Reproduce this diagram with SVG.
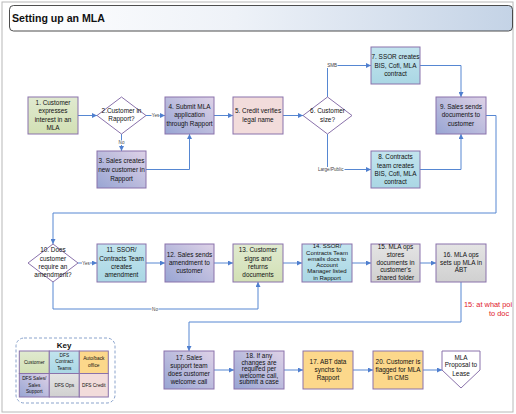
<svg xmlns="http://www.w3.org/2000/svg" width="516" height="414" viewBox="0 0 516 414">
<defs>
<linearGradient id="gTitle" x1="0" y1="0" x2="1" y2="0"><stop offset="0" stop-color="#ffffff"/><stop offset="0.45" stop-color="#eef2f8"/><stop offset="1" stop-color="#c4d3e6"/></linearGradient>
<linearGradient id="gPurple" x1="0" y1="1" x2="1" y2="0"><stop offset="0" stop-color="#98a5d3"/><stop offset="1" stop-color="#ded2e7"/></linearGradient>
<linearGradient id="gBlue" x1="0" y1="0" x2="0" y2="1"><stop offset="0" stop-color="#c2e4ee"/><stop offset="1" stop-color="#aad7e4"/></linearGradient>
<linearGradient id="gGray" x1="0" y1="0" x2="0" y2="1"><stop offset="0" stop-color="#e4e4e4"/><stop offset="1" stop-color="#d0d0d0"/></linearGradient>
<linearGradient id="gGreen" x1="0" y1="0" x2="0" y2="1"><stop offset="0" stop-color="#e0ead0"/><stop offset="1" stop-color="#d2e0b4"/></linearGradient>
<marker id="arr" viewBox="0 0 6 6" refX="6" refY="3" markerWidth="5" markerHeight="5" markerUnits="userSpaceOnUse" orient="auto"><path d="M0,0 L6,3 L0,6 z" fill="#4f7fcf"/></marker>
<clipPath id="frameClip"><rect x="2" y="2" width="511" height="410"/></clipPath>
</defs>
<style>
text{font-family:"Liberation Sans",Arial,sans-serif;text-anchor:middle;fill:#111;}
.t{font-size:6.4px;}
.t14{font-size:6px;}
.box{stroke:#8a72ab;stroke-width:1;}
.purple{fill:url(#gPurple);}
.blue{fill:url(#gBlue);}
.gray{fill:url(#gGray);}
.green{fill:url(#gGreen);}
.pink{fill:#f2dcdb;}
.yellow{fill:#fcd88b;}
.white{fill:#ffffff;}
.conn{fill:none;stroke:#5687d2;stroke-width:1;}
.lbl{font-size:4.6px;fill:#444;}
.lblbg{fill:#ffffff;}
.key{font-size:4.8px;}
.red{font-size:7.4px;fill:#e0202a;text-anchor:start;}
</style>
<rect x="2" y="2" width="511" height="410" fill="#ffffff" stroke="#b8b8b8" stroke-width="1"/>
<g id="title">
<rect x="9.5" y="5.5" width="503" height="25.5" rx="4" fill="url(#gTitle)" stroke="#3a3a3a" stroke-width="0.9"/>
<text x="12" y="22" style="font-size:10.6px;font-weight:bold;text-anchor:start;">Setting up an MLA</text>
</g>
<g id="connectors">
<path class="conn" d="M78,115.5 H97" marker-end="url(#arr)"/>
<path class="conn" d="M146,115.5 H165" marker-end="url(#arr)"/>
<path class="conn" d="M121.5,134 V151" marker-end="url(#arr)"/>
<path class="conn" d="M146,169.5 H189.5 V134" marker-end="url(#arr)"/>
<path class="conn" d="M214,115.5 H233" marker-end="url(#arr)"/>
<path class="conn" d="M283,115.5 H303" marker-end="url(#arr)"/>
<path class="conn" d="M327.5,97 V65.5 H371" marker-end="url(#arr)"/>
<path class="conn" d="M327.5,134 V169.5 H371" marker-end="url(#arr)"/>
<path class="conn" d="M420,65.5 H461 V97" marker-end="url(#arr)"/>
<path class="conn" d="M420,169.5 H461 V134" marker-end="url(#arr)"/>
<path class="conn" d="M486,115.5 H496 V213 H53 V244" marker-end="url(#arr)"/>
<path class="conn" d="M78,263 H97" marker-end="url(#arr)"/>
<path class="conn" d="M146,263 H165" marker-end="url(#arr)"/>
<path class="conn" d="M214,263 H233" marker-end="url(#arr)"/>
<path class="conn" d="M283,263 H302" marker-end="url(#arr)"/>
<path class="conn" d="M352,263 H371" marker-end="url(#arr)"/>
<path class="conn" d="M420,263 H436" marker-end="url(#arr)"/>
<path class="conn" d="M53,282 V309 H258 V282" marker-end="url(#arr)"/>
<path class="conn" d="M461,282 V322 H189 V351" marker-end="url(#arr)"/>
<path class="conn" d="M214,370 H234" marker-end="url(#arr)"/>
<path class="conn" d="M284,370 H303" marker-end="url(#arr)"/>
<path class="conn" d="M353,370 H373" marker-end="url(#arr)"/>
<path class="conn" d="M423,370 H442" marker-end="url(#arr)"/>
<rect class="lblbg" x="151.5" y="113" width="8" height="5"/>
<text class="lbl" x="155.5" y="117.2">Yes</text>
<rect class="lblbg" x="118" y="140" width="7" height="5"/>
<text class="lbl" x="121.5" y="144.2">No</text>
<rect class="lblbg" x="327" y="63" width="10.5" height="5"/>
<text class="lbl" x="332.2" y="67.2">SMB</text>
<rect class="lblbg" x="317" y="167" width="27.5" height="5"/>
<text class="lbl" x="330.7" y="171.2">Large/Public</text>
<rect class="lblbg" x="82" y="260.5" width="8" height="5"/>
<text class="lbl" x="86" y="264.7">Yes</text>
<rect class="lblbg" x="151.5" y="306.5" width="7" height="5"/>
<text class="lbl" x="155" y="310.7">No</text>
</g>
<g id="n1"><rect class="box green" x="28" y="97" width="50" height="37"/>
<text class="t"><tspan x="53" y="105">1. Customer</tspan><tspan x="53" y="113.3">expresses</tspan><tspan x="53" y="121.5">interest in an</tspan><tspan x="53" y="129.7">MLA</tspan></text></g>
<g id="n2"><polygon class="box white" points="121.5,97 146,115.5 121.5,134 97,115.5"/>
<text class="t"><tspan x="121.5" y="113">2.Customer in</tspan><tspan x="121.5" y="121">Rapport?</tspan></text></g>
<g id="n3"><rect class="box purple" x="97" y="151" width="49" height="37"/>
<text class="t"><tspan x="121.5" y="163.3">3. Sales creates</tspan><tspan x="121.5" y="172.2">new customer in</tspan><tspan x="121.5" y="180.5">Rapport</tspan></text></g>
<g id="n4"><rect class="box purple" x="165" y="97" width="49" height="37"/>
<text class="t"><tspan x="189.5" y="109.3">4. Submit MLA</tspan><tspan x="189.5" y="117.3">application</tspan><tspan x="189.5" y="125.5">through Rapport</tspan></text></g>
<g id="n5"><rect class="box pink" x="233" y="97" width="50" height="37"/>
<text class="t"><tspan x="258" y="113.3">5. Credit verifies</tspan><tspan x="258" y="121.5">legal name</tspan></text></g>
<g id="n6"><polygon class="box white" points="327.5,97 352,115.5 327.5,134 303,115.5"/>
<text class="t"><tspan x="327.5" y="113.3">6. Customer</tspan><tspan x="327.5" y="122">size?</tspan></text></g>
<g id="n7"><rect class="box blue" x="371" y="47" width="49" height="37"/>
<text class="t"><tspan x="395.5" y="59">7. SSOR creates</tspan><tspan x="395.5" y="67.5">BIS, Cofi, MLA</tspan><tspan x="395.5" y="75.6">contract</tspan></text></g>
<g id="n8"><rect class="box blue" x="371" y="151" width="49" height="37"/>
<text class="t"><tspan x="395.5" y="159">8. Contracts</tspan><tspan x="395.5" y="167.5">team creates</tspan><tspan x="395.5" y="175.6">BIS, Cofi, MLA</tspan><tspan x="395.5" y="184">contract</tspan></text></g>
<g id="n9"><rect class="box purple" x="436" y="97" width="50" height="37"/>
<text class="t"><tspan x="461" y="109">9. Sales sends</tspan><tspan x="461" y="117.3">documents to</tspan><tspan x="461" y="125.6">customer</tspan></text></g>
<g id="n10"><polygon class="box white" points="53,244 78,263 53,282 28,263"/>
<text class="t"><tspan x="53" y="252.3">10. Does</tspan><tspan x="53" y="260.6">customer</tspan><tspan x="53" y="269">require an</tspan><tspan x="53" y="277">amendment?</tspan></text></g>
<g id="n11"><rect class="box blue" x="97" y="244" width="49" height="38"/>
<text class="t"><tspan x="121.5" y="252.3">11. SSOR/</tspan><tspan x="121.5" y="260.6">Contracts Team</tspan><tspan x="121.5" y="269">creates</tspan><tspan x="121.5" y="277.3">amendment</tspan></text></g>
<g id="n12"><rect class="box purple" x="165" y="244" width="49" height="38"/>
<text class="t"><tspan x="189.5" y="256.6">12. Sales sends</tspan><tspan x="189.5" y="265">amendment to</tspan><tspan x="189.5" y="273.3">customer</tspan></text></g>
<g id="n13"><rect class="box green" x="233" y="244" width="50" height="38"/>
<text class="t"><tspan x="258" y="252.3">13. Customer</tspan><tspan x="258" y="260.6">signs and</tspan><tspan x="258" y="269">returns</tspan><tspan x="258" y="277.3">documents</tspan></text></g>
<g id="n14"><rect class="box blue" x="302" y="244" width="50" height="38"/>
<text class="t14"><tspan x="327" y="247.8">14. SSOR/</tspan><tspan x="327" y="254.7">Contracts Team</tspan><tspan x="327" y="261">emails docs to</tspan><tspan x="327" y="267.2">Account</tspan><tspan x="327" y="273.4">Manager listed</tspan><tspan x="327" y="279.7">in Rapport</tspan></text></g>
<g id="n15"><rect class="box gray" x="371" y="244" width="49" height="38"/>
<text class="t"><tspan x="395.5" y="248.8">15. MLA ops</tspan><tspan x="395.5" y="257">stores</tspan><tspan x="395.5" y="264.6">documents in</tspan><tspan x="395.5" y="272.3">customer's</tspan><tspan x="395.5" y="280">shared folder</tspan></text></g>
<g id="n16"><rect class="box gray" x="436" y="244" width="50" height="38"/>
<text class="t"><tspan x="461" y="256.6">16. MLA ops</tspan><tspan x="461" y="264.6">sets up MLA in</tspan><tspan x="461" y="272.3">ABT</tspan></text></g>
<g id="note" clip-path="url(#frameClip)">
<text class="red" x="464" y="306.5">15: at what poi</text>
<text class="red" x="489" y="315.5">to doc</text>
</g>
<g id="n17"><rect class="box purple" x="164" y="351" width="50" height="38"/>
<text class="t"><tspan x="189" y="359.6">17. Sales</tspan><tspan x="189" y="367.6">support team</tspan><tspan x="189" y="375.6">does customer</tspan><tspan x="189" y="383.6">welcome call</tspan></text></g>
<g id="n18"><rect class="box purple" x="234" y="351" width="50" height="38"/>
<text class="t"><tspan x="259" y="358">18. If any</tspan><tspan x="259" y="364.5">changes are</tspan><tspan x="259" y="371">required per</tspan><tspan x="259" y="377.5">welcome call,</tspan><tspan x="259" y="384">submit a case</tspan></text></g>
<g id="n17b"><rect class="box yellow" x="303" y="351" width="50" height="38"/>
<text class="t"><tspan x="328" y="364">17. ABT data</tspan><tspan x="328" y="372">synchs to</tspan><tspan x="328" y="380">Rapport</tspan></text></g>
<g id="n20"><rect class="box yellow" x="373" y="351" width="50" height="38"/>
<text class="t"><tspan x="398" y="364">20. Customer is</tspan><tspan x="398" y="372">flagged for MLA</tspan><tspan x="398" y="380">in CMS</tspan></text></g>
<g id="n21"><polygon class="box white" points="442,351 480,351 480,370 461,388 442,370"/>
<text class="t"><tspan x="461" y="359.6">MLA</tspan><tspan x="461" y="367.3">Proposal to</tspan><tspan x="461" y="375.6">Lease</tspan></text></g>
<g id="key">
<rect x="16" y="338" width="99" height="65" rx="8" fill="none" stroke="#8aa3cc" stroke-width="1" stroke-dasharray="3,2"/>
<text x="64" y="348" style="font-size:8px;font-weight:bold;">Key</text>
<rect class="box green" x="19.3" y="351" width="30" height="22.5"/>
<rect class="box blue" x="49.3" y="351" width="30" height="22.5"/>
<rect class="box yellow" x="79.3" y="351" width="29" height="22.5"/>
<rect class="box purple" x="19.3" y="373.5" width="30" height="23.5"/>
<rect class="box gray" x="49.3" y="373.5" width="30" height="23.5"/>
<rect class="box pink" x="79.3" y="373.5" width="29" height="23.5"/>
<text class="key" x="34.3" y="363.5">Customer</text>
<text class="key"><tspan x="64.3" y="356.7">DFS</tspan><tspan x="64.3" y="363.4">Contract</tspan><tspan x="64.3" y="370">Teams</tspan></text>
<text class="key"><tspan x="93.8" y="360">Auto/back</tspan><tspan x="93.8" y="367">office</tspan></text>
<text class="key"><tspan x="34.3" y="380">DFS Sales/</tspan><tspan x="34.3" y="386.7">Sales</tspan><tspan x="34.3" y="392.8">Support</tspan></text>
<text class="key" x="64.3" y="386.7">DFS Ops</text>
<text class="key" x="93.8" y="386.7">DFS Credit</text>
</g>
</svg>
